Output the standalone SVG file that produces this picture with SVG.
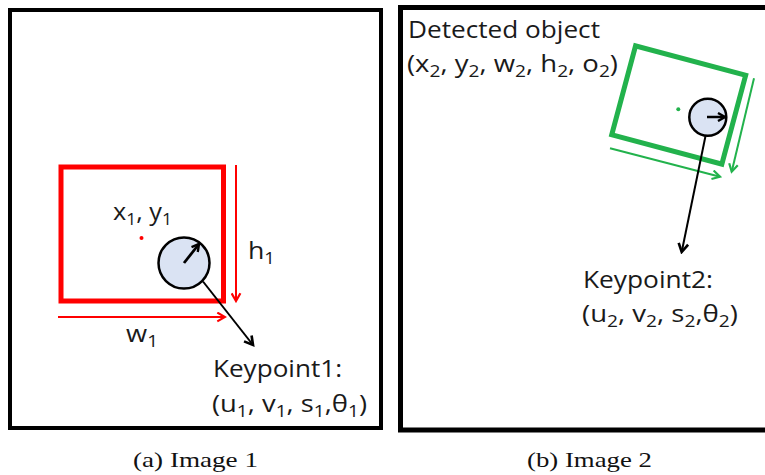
<svg xmlns="http://www.w3.org/2000/svg" width="765" height="475" viewBox="0 0 765 475">
<style>
.lbl{font-family:"Open Sans","Liberation Sans",sans-serif;font-size:23px;fill:#1a1a1a}
.sub{font-size:16px}
.cap{font-family:"Liberation Serif","DejaVu Serif",serif;font-size:22px;fill:#111}
.frame{fill:none;stroke:#000}
.kp{fill:#dae3f3;stroke:#000;stroke-width:2.5}
</style>
<defs>
<marker id="mr" viewBox="0 0 10 10" refX="8" refY="5" markerWidth="11" markerHeight="11" markerUnits="userSpaceOnUse" orient="auto"><path d="M1,1 L8,5 L1,9" fill="none" stroke="#f00" stroke-width="2"/></marker>
<marker id="mg" viewBox="0 0 10 10" refX="8" refY="5" markerWidth="11" markerHeight="11" markerUnits="userSpaceOnUse" orient="auto"><path d="M1,1 L8,5 L1,9" fill="none" stroke="#22b24c" stroke-width="2"/></marker>
<marker id="mb" viewBox="0 0 10 10" refX="8" refY="5" markerWidth="12" markerHeight="12" markerUnits="userSpaceOnUse" orient="auto"><path d="M1,1 L8,5 L1,9" fill="none" stroke="#000" stroke-width="2.2"/></marker>
<marker id="mbs" viewBox="0 0 10 10" refX="8" refY="5" markerWidth="10" markerHeight="10" markerUnits="userSpaceOnUse" orient="auto"><path d="M1,1 L8,5 L1,9" fill="none" stroke="#000" stroke-width="2.4"/></marker>
</defs>
<rect width="765" height="475" fill="#fff"/>

<g id="image1">
<rect class="frame" x="10" y="10" width="371" height="418" stroke-width="4"/>
</g>
<g id="image2">
<path class="frame" d="M766,7.5 H400.5 V430 H766" stroke-width="5"/>
</g>

<g id="bbox1">
<rect x="61" y="167" width="162.5" height="134" fill="none" stroke="#f00" stroke-width="5"/>
<circle cx="141.5" cy="238" r="2" fill="#f00"/>
<text class="lbl" x="113" y="220" textLength="59" lengthAdjust="spacingAndGlyphs">x<tspan class="sub" dy="5">1</tspan><tspan dy="-5">, y</tspan><tspan class="sub" dy="5">1</tspan></text>
<text class="lbl" x="248" y="259" textLength="27" lengthAdjust="spacingAndGlyphs">h<tspan class="sub" dy="5">1</tspan></text>
<text class="lbl" x="126" y="342" textLength="32" lengthAdjust="spacingAndGlyphs">w<tspan class="sub" dy="5">1</tspan></text>
</g>

<g id="keypoint1">
<circle class="kp" cx="184" cy="263" r="25.5"/>
<text class="lbl" x="213" y="377" textLength="129" lengthAdjust="spacingAndGlyphs">Keypoint1:</text>
<text class="lbl" x="212" y="412" textLength="155" lengthAdjust="spacingAndGlyphs">(u<tspan class="sub" dy="5">1</tspan><tspan dy="-5">, v</tspan><tspan class="sub" dy="5">1</tspan><tspan dy="-5">, s</tspan><tspan class="sub" dy="5">1</tspan><tspan dy="-5">,θ</tspan><tspan class="sub" dy="5">1</tspan><tspan dy="-5">)</tspan></text>
</g>

<g id="bbox2">
<rect x="621.7" y="59" width="114" height="92" fill="none" stroke="#22b24c" stroke-width="5" transform="rotate(15 678.7 105)"/>
<circle cx="678.3" cy="109.3" r="2" fill="#22b24c"/>
<text class="lbl" x="408" y="38" textLength="192" lengthAdjust="spacingAndGlyphs">Detected object</text>
<text class="lbl" x="407" y="72" textLength="211" lengthAdjust="spacingAndGlyphs">(x<tspan class="sub" dy="5">2</tspan><tspan dy="-5">, y</tspan><tspan class="sub" dy="5">2</tspan><tspan dy="-5">, w</tspan><tspan class="sub" dy="5">2</tspan><tspan dy="-5">, h</tspan><tspan class="sub" dy="5">2</tspan><tspan dy="-5">, o</tspan><tspan class="sub" dy="5">2</tspan><tspan dy="-5">)</tspan></text>
</g>

<g id="keypoint2">
<circle class="kp" cx="707.8" cy="117.2" r="18.5"/>
<text class="lbl" x="583" y="288" textLength="130" lengthAdjust="spacingAndGlyphs">Keypoint2:</text>
<text class="lbl" x="582" y="322" textLength="156" lengthAdjust="spacingAndGlyphs">(u<tspan class="sub" dy="5">2</tspan><tspan dy="-5">, v</tspan><tspan class="sub" dy="5">2</tspan><tspan dy="-5">, s</tspan><tspan class="sub" dy="5">2</tspan><tspan dy="-5">,θ</tspan><tspan class="sub" dy="5">2</tspan><tspan dy="-5">)</tspan></text>
</g>

<g id="connectors" fill="none">
<line x1="236" y1="165" x2="236" y2="301" stroke="#f00" stroke-width="2" marker-end="url(#mr)"/>
<line x1="58" y1="317" x2="225" y2="317" stroke="#f00" stroke-width="2" marker-end="url(#mr)"/>
<line x1="184" y1="263" x2="199" y2="244" stroke="#000" stroke-width="2.8" marker-end="url(#mbs)"/>
<line x1="203" y1="281.5" x2="253" y2="345" stroke="#000" stroke-width="2" marker-end="url(#mb)"/>
<line x1="610" y1="148.3" x2="720" y2="176.7" stroke="#22b24c" stroke-width="2" marker-end="url(#mg)"/>
<line x1="754" y1="78.3" x2="731.7" y2="171.7" stroke="#22b24c" stroke-width="2" marker-end="url(#mg)"/>
<line x1="707" y1="117" x2="725" y2="117" stroke="#000" stroke-width="2.5" marker-end="url(#mbs)"/>
<line x1="705.5" y1="136" x2="681.7" y2="252" stroke="#000" stroke-width="2" marker-end="url(#mb)"/>
</g>

<text class="cap" x="133" y="467" textLength="125" lengthAdjust="spacingAndGlyphs">(a) Image 1</text>
<text class="cap" x="527" y="467" textLength="125" lengthAdjust="spacingAndGlyphs">(b) Image 2</text>
</svg>
